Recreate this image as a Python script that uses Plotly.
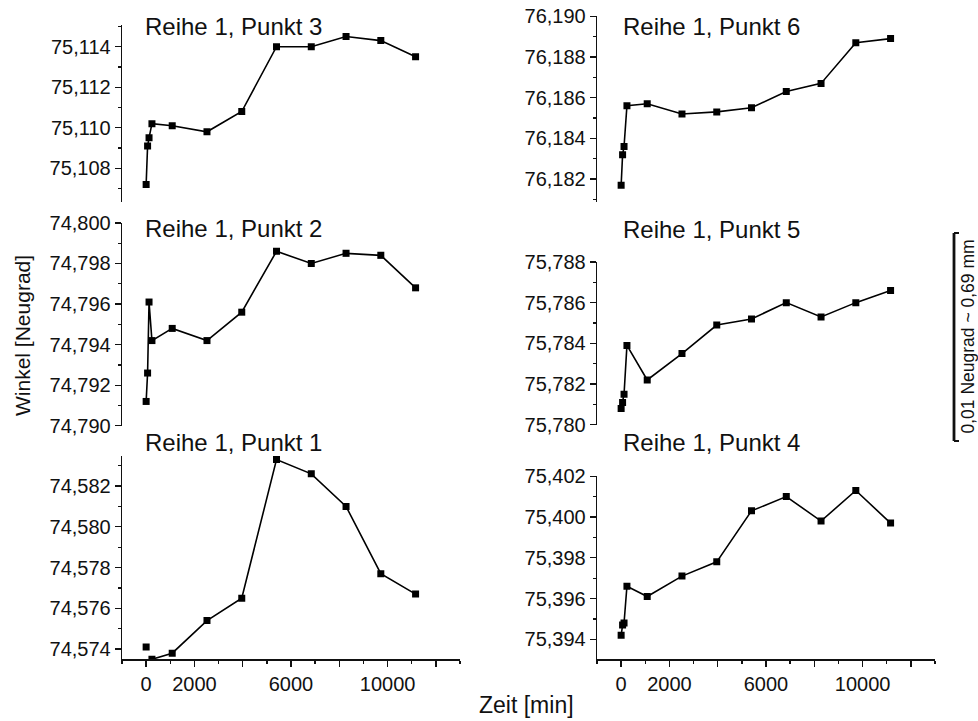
import plotly.graph_objects as go

W, H = 978, 721

time_min = [0, 60, 120, 240, 1080, 2520, 3960, 5400, 6840, 8280, 9720, 11160]
punkt1 = [74.5741, None, None, 74.5735, 74.5738, 74.5754, 74.5765, 74.5833, 74.5826, 74.5810, 74.5777, 74.5767]
punkt2 = [74.7912, 74.7926, 74.7961, 74.7942, 74.7948, 74.7942, 74.7956, 74.7986, 74.7980, 74.7985, 74.7984, 74.7968]
punkt3 = [75.1072, 75.1091, 75.1095, 75.1102, 75.1101, 75.1098, 75.1108, 75.1140, 75.1140, 75.1145, 75.1143, 75.1135]
punkt4 = [75.3942, 75.3947, 75.3948, 75.3966, 75.3961, 75.3971, 75.3978, 75.4003, 75.4010, 75.3998, 75.4013, 75.3997]
punkt5 = [75.7808, 75.7811, 75.7815, 75.7839, 75.7822, 75.7835, 75.7849, 75.7852, 75.7860, 75.7853, 75.7860, 75.7866]
punkt6 = [76.1817, 76.1832, 76.1836, 76.1856, 76.1857, 76.1852, 76.1853, 76.1855, 76.1863, 76.1867, 76.1887, 76.1889]

titles = ["Reihe 1, Punkt 3", "Reihe 1, Punkt 2", "Reihe 1, Punkt 1",
          "Reihe 1, Punkt 6", "Reihe 1, Punkt 5", "Reihe 1, Punkt 4"]
series = [punkt3, punkt2, punkt1, punkt6, punkt5, punkt4]
y_ranges = [[75.10635, 75.11507], [74.78999, 74.80001], [74.5735, 74.5835],
            [76.18089, 76.19001], [75.77999, 75.78801], [75.39302, 75.40201]]
x_tickvals = [0, 2000, 4000, 6000, 8000, 10000, 12000]
x_ticktext = ["0", "2000", "", "6000", "", "10000", ""]
x_range = [-1000, 13000]

# pixel geometry of panels (top, bottom) and columns (left, right)
rows_px = [(25, 201.7), (222.7, 426), (455.5, 659.3),
           (16, 201.7), (261.7, 425), (476, 659.3)]
cols_px = [(122, 460), (122, 460), (122, 460),
           (597, 935), (597, 935), (597, 935)]
title_px = [(143, 26.5), (143, 228.5), (143, 442.5),
            (621, 26.5), (621, 229.5), (621, 442.5)]


def px(x):
    return x / W


def py(y):
    return 1 - y / H


FONT = "Liberation Sans, Arial, Helvetica, sans-serif"
INK = "#111111"

fig = go.Figure()
layout = dict(
    width=W, height=H, margin=dict(l=0, r=0, t=0, b=0),
    paper_bgcolor="white", plot_bgcolor="white",
    separators=",.", showlegend=False,
    font=dict(family=FONT, size=20, color=INK),
)
annotations = []
for i in range(6):
    k = "" if i == 0 else str(i + 1)
    fig.add_trace(go.Scatter(
        x=time_min, y=series[i], xaxis="x" + k, yaxis="y" + k,
        mode="lines+markers", connectgaps=False,
        line=dict(color="black", width=1.6),
        marker=dict(symbol="square", size=7, color="black"),
    ))
    l, r = cols_px[i]
    t, b = rows_px[i]
    bottom = i in (2, 5)
    xa = dict(domain=[px(l), px(r)], range=x_range, anchor="y" + k,
              fixedrange=True, zeroline=False, showgrid=False)
    if bottom:
        xa.update(showline=True, linecolor=INK, linewidth=1.3,
                  ticks="outside", ticklen=6, tickwidth=1.3, tickcolor=INK,
                  tickmode="array", tickvals=x_tickvals, ticktext=x_ticktext,
                  tickfont=dict(size=20, color=INK), automargin=False,
                  minor=dict(ticks="outside", dtick=1000, tick0=0, ticklen=3,
                             tickwidth=1.3, tickcolor=INK))
    else:
        xa.update(visible=False)
    ya = dict(domain=[py(b), py(t)], range=y_ranges[i], anchor="x" + k,
              side="left", fixedrange=True, zeroline=False, showgrid=False,
              showline=True, linecolor=INK, linewidth=1.3,
              ticks="outside", ticklen=6, tickwidth=1.3, tickcolor=INK,
              tick0=0, dtick=0.002, tickformat=".3f",
              tickfont=dict(size=20, color=INK), automargin=False,
              minor=dict(ticks="outside", dtick=0.001, tick0=0, ticklen=3,
                         tickwidth=1.3, tickcolor=INK))
    layout["xaxis" + k] = xa
    layout["yaxis" + k] = ya
    tx, ty = title_px[i]
    annotations.append(dict(text=titles[i], xref="paper", yref="paper",
                            x=px(tx), y=py(ty), xanchor="left", yanchor="middle",
                            showarrow=False, font=dict(size=24, color=INK, family=FONT)))

annotations.append(dict(text="Zeit [min]", xref="paper", yref="paper",
                        x=px(526.5), y=py(705), xanchor="center", yanchor="middle",
                        showarrow=False, font=dict(size=23, color=INK, family=FONT)))
annotations.append(dict(text="Winkel [Neugrad]", xref="paper", yref="paper",
                        x=px(22), y=py(336), xanchor="center", yanchor="middle",
                        textangle=-90, showarrow=False,
                        font=dict(size=21, color=INK, family=FONT)))
annotations.append(dict(text="0,01 Neugrad ~ 0,69 mm", xref="paper", yref="paper",
                        x=px(967.5), y=py(337), xanchor="center", yanchor="middle",
                        textangle=-90, showarrow=False,
                        font=dict(size=17.5, color=INK, family=FONT)))
layout["annotations"] = annotations

bx, bt, bb = px(954), py(233), py(441)
layout["shapes"] = [
    dict(type="line", xref="paper", yref="paper", x0=bx, x1=bx, y0=bt, y1=bb,
         line=dict(color=INK, width=2.8)),
    dict(type="line", xref="paper", yref="paper", x0=bx, x1=px(959), y0=bt, y1=bt,
         line=dict(color=INK, width=2)),
    dict(type="line", xref="paper", yref="paper", x0=bx, x1=px(959), y0=bb, y1=bb,
         line=dict(color=INK, width=2)),
]

fig.update_layout(**layout)
fig.write_html(
    "out.html",
    config={"displayModeBar": False, "staticPlot": True},
    post_script="document.body.style.margin='0';document.body.style.overflow='hidden';",
)
